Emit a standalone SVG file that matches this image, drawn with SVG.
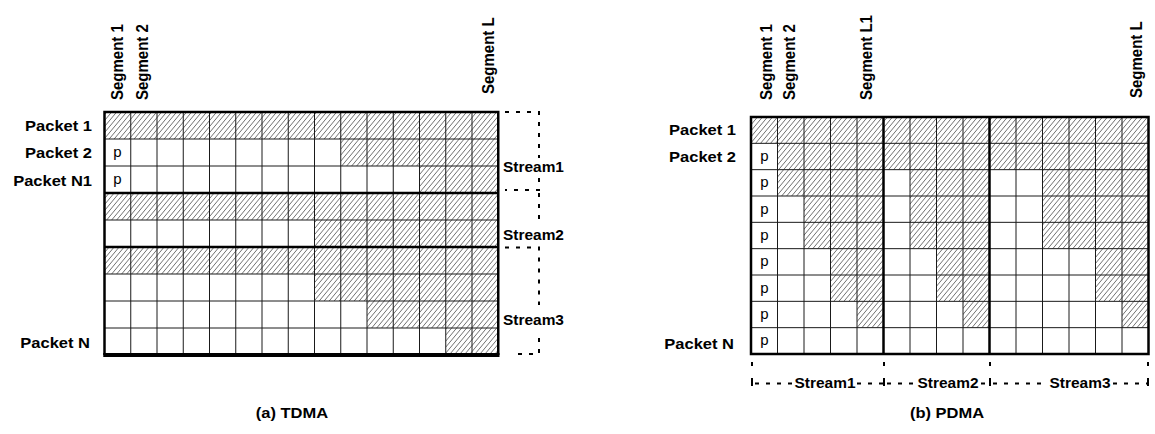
<svg xmlns="http://www.w3.org/2000/svg" width="1155" height="434" viewBox="0 0 1155 434">
  <style>
    text { font-family: "Liberation Sans", Arial, sans-serif; fill: #000; }
    .lbl { font-size: 15px; font-weight: bold; }
    .end { text-anchor: end; }
    .mid { text-anchor: middle; }
    .p { font-size: 15px; text-anchor: middle; }
    .hatch { fill: url(#hatch); stroke: none; }
    .grid { fill: none; stroke: #1a1a1a; stroke-width: 1; }
    .thick { fill: none; stroke: #000; stroke-width: 2.5; }
    .brace { fill: none; stroke: #000; stroke-width: 2; stroke-dasharray: 4 7; }
    .tick { fill: none; stroke: #000; stroke-width: 2; }
  </style>
  <defs>
    <!-- diagonal hatch for occupied slots -->
    <pattern id="hatch" patternUnits="userSpaceOnUse" width="5" height="6">
      <rect width="5" height="6" fill="#fff"/>
      <path d="M0,6 L5,0 M-1,1.2 L1,-1.2 M4,7.2 L6,4.8" stroke="#606060" stroke-width="0.9"/>
    </pattern>
  </defs>
  <rect width="1155" height="434" fill="#fff"/>

  <!-- (a) TDMA: 9 packets x 15 segments, x0=104.5, cw=26.25, y0=112, rh=27 -->
  <g id="tdma">
    <g id="tdma-slots">
      <rect class="hatch" x="104.5" y="112" width="393.75" height="27"/>
      <rect class="hatch" x="340.75" y="139" width="157.5" height="27"/>
      <rect class="hatch" x="419.5" y="166" width="78.75" height="27"/>
      <rect class="hatch" x="104.5" y="193" width="393.75" height="27"/>
      <rect class="hatch" x="314.5" y="220" width="183.75" height="27"/>
      <rect class="hatch" x="104.5" y="247" width="393.75" height="27"/>
      <rect class="hatch" x="314.5" y="274" width="183.75" height="27"/>
      <rect class="hatch" x="367" y="301" width="131.25" height="27"/>
      <rect class="hatch" x="445.75" y="328" width="52.5" height="27"/>
    </g>
    <path class="grid" d="M130.75,112V355 M157,112V355 M183.25,112V355 M209.5,112V355 M235.75,112V355 M262,112V355 M288.25,112V355 M314.5,112V355 M340.75,112V355 M367,112V355 M393.25,112V355 M419.5,112V355 M445.75,112V355 M472,112V355 M104.5,139H498.25 M104.5,166H498.25 M104.5,220H498.25 M104.5,274H498.25 M104.5,301H498.25 M104.5,328H498.25"/>
    <path class="thick" d="M104.5,355V112H498.25V355 M104.5,193H498.25 M104.5,247H498.25"/>
    <path fill="none" stroke="#000" stroke-width="4" d="M103.25,355H499.5"/>
    <text class="p" x="117.5" y="157">p</text>
    <text class="p" x="117.5" y="184">p</text>
    <text class="lbl end" transform="translate(92,131) scale(1.1,1)">Packet 1</text>
    <text class="lbl end" transform="translate(92,158) scale(1.1,1)">Packet 2</text>
    <text class="lbl end" transform="translate(92,186) scale(1.1,1)">Packet N1</text>
    <text class="lbl end" transform="translate(90,348) scale(1.1,1)">Packet N</text>
    <text class="lbl" transform="translate(123,100) scale(1.1,1) rotate(-90)">Segment 1</text>
    <text class="lbl" transform="translate(148,100) scale(1.1,1) rotate(-90)">Segment 2</text>
    <text class="lbl" transform="translate(494,94) scale(1.1,1) rotate(-90)">Segment L</text>
    <g id="tdma-streams">
      <path class="brace" d="M505,112H539V158 M539,178V190H505"/>
      <path class="brace" d="M539,193V226"/>
      <path class="brace" d="M505,247.5H539V305 M539,338V354H516"/>
      <text class="lbl" transform="translate(503,172) scale(1.03,1)">Stream1</text>
      <text class="lbl" transform="translate(503,240) scale(1.03,1)">Stream2</text>
      <text class="lbl" transform="translate(503,325) scale(1.03,1)">Stream3</text>
    </g>
    <text class="lbl mid" transform="translate(292,418) scale(1.1,1)">(a) TDMA</text>
  </g>

  <!-- (b) PDMA: 9 packets x 15 segments, x0=751, cw=26.5, y0=117, rh=26.33 -->
  <g id="pdma">
    <g id="pdma-slots">
      <rect class="hatch" x="751" y="117" width="397.5" height="26.33"/>
      <rect class="hatch" x="777.5" y="143.33" width="371" height="26.34"/>
      <rect class="hatch" x="777.5" y="169.67" width="106" height="26.33"/>
      <rect class="hatch" x="910" y="169.67" width="79.5" height="26.33"/>
      <rect class="hatch" x="1042.5" y="169.67" width="106" height="26.33"/>
      <rect class="hatch" x="804" y="196" width="79.5" height="52.67"/>
      <rect class="hatch" x="910" y="196" width="79.5" height="52.67"/>
      <rect class="hatch" x="1042.5" y="196" width="106" height="52.67"/>
      <rect class="hatch" x="830.5" y="248.67" width="53" height="52.66"/>
      <rect class="hatch" x="936.5" y="248.67" width="53" height="52.66"/>
      <rect class="hatch" x="1095.5" y="248.67" width="53" height="52.66"/>
      <rect class="hatch" x="857" y="301.33" width="26.5" height="26.34"/>
      <rect class="hatch" x="963" y="301.33" width="26.5" height="26.34"/>
      <rect class="hatch" x="1122" y="301.33" width="26.5" height="26.34"/>
    </g>
    <path class="grid" d="M777.5,117V354 M804,117V354 M830.5,117V354 M857,117V354 M910,117V354 M936.5,117V354 M963,117V354 M1016,117V354 M1042.5,117V354 M1069,117V354 M1095.5,117V354 M1122,117V354 M751,143.33H1148.5 M751,169.67H1148.5 M751,196H1148.5 M751,222.33H1148.5 M751,248.67H1148.5 M751,275H1148.5 M751,301.33H1148.5 M751,327.67H1148.5"/>
    <path class="thick" d="M751,117H1148.5V354H751Z M883.5,117V354 M989.5,117V354"/>
    <text class="p" x="764.5" y="161">p</text>
    <text class="p" x="764.5" y="187">p</text>
    <text class="p" x="764.5" y="213.5">p</text>
    <text class="p" x="764.5" y="240">p</text>
    <text class="p" x="764.5" y="266">p</text>
    <text class="p" x="764.5" y="292.5">p</text>
    <text class="p" x="764.5" y="319">p</text>
    <text class="p" x="764.5" y="345">p</text>
    <text class="lbl end" transform="translate(736,135) scale(1.1,1)">Packet 1</text>
    <text class="lbl end" transform="translate(736,162) scale(1.1,1)">Packet 2</text>
    <text class="lbl end" transform="translate(734,349) scale(1.1,1)">Packet N</text>
    <text class="lbl" transform="translate(771.5,100) scale(1.1,1) rotate(-90)">Segment 1</text>
    <text class="lbl" transform="translate(794.5,100) scale(1.1,1) rotate(-90)">Segment 2</text>
    <text class="lbl" transform="translate(871.5,100) scale(1.1,1) rotate(-90)">Segment L1</text>
    <text class="lbl" transform="translate(1141.5,98) scale(1.1,1) rotate(-90)">Segment L</text>
    <g id="pdma-streams">
      <path class="tick" d="M752,362v4 M752,378v8 M884,362v4 M884,378v8 M990,362v4 M990,378v8 M1148,362v4 M1148,378v8"/>
      <path class="brace" d="M755,383.5H793 M857,383.5H884 M887,383.5H916 M981,383.5H990 M993,383.5H1048 M1113,383.5H1148"/>
      <text class="lbl mid" transform="translate(825,388) scale(1.03,1)">Stream1</text>
      <text class="lbl mid" transform="translate(948,388) scale(1.03,1)">Stream2</text>
      <text class="lbl mid" transform="translate(1080,388) scale(1.03,1)">Stream3</text>
    </g>
    <text class="lbl mid" transform="translate(947,418) scale(1.1,1)">(b) PDMA</text>
  </g>
</svg>
